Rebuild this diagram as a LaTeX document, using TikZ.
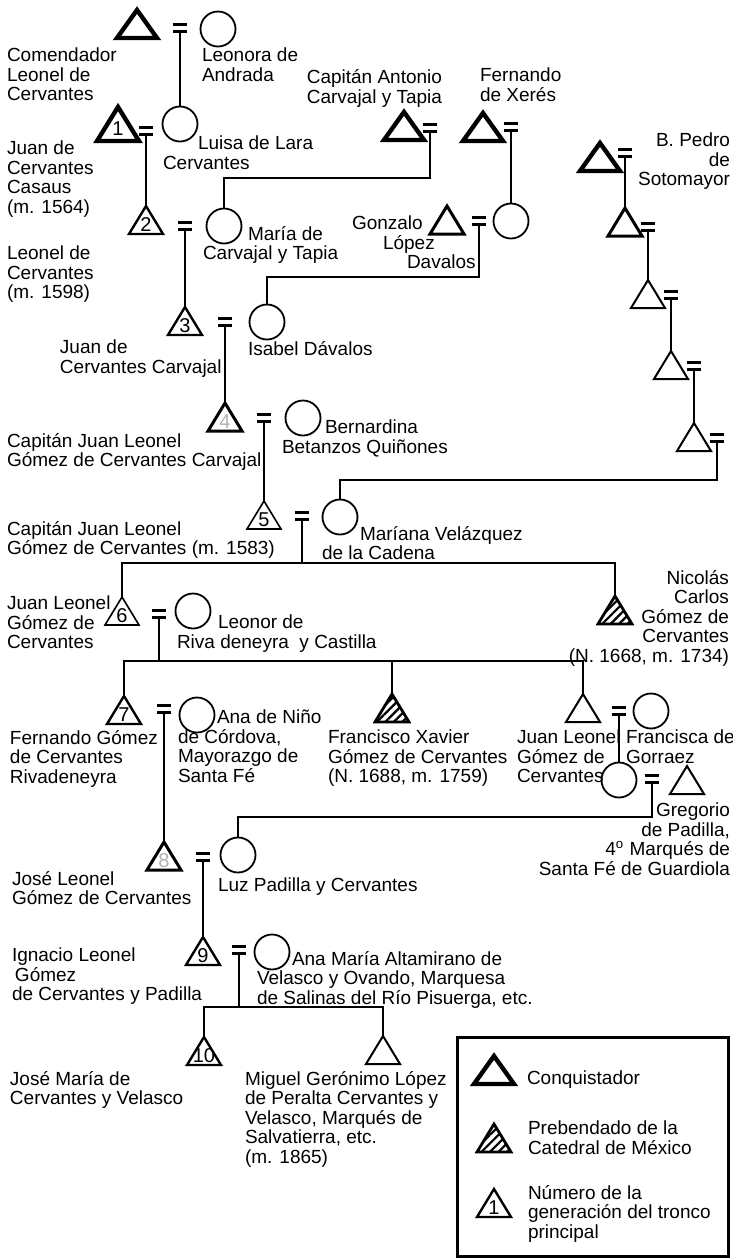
\documentclass[tikz,border=0pt]{standalone}
\usepackage{fontspec}
\setmainfont{Liberation Sans}
\usetikzlibrary{patterns.meta}

\begin{document}
\begin{tikzpicture}[x=0.5pt,y=-0.5pt,
    every node/.style={font=\fontsize{9.5}{9.8}\selectfont,inner sep=0pt,outer sep=0pt},
    link/.style={line width=0.75pt},
    lbl/.style={anchor=north west,align=left},
    lblr/.style={anchor=north east,align=right},
    eqs/.style={minimum width=7pt,minimum height=5pt,fill=white,path picture={
        \fill[black] (path picture bounding box.north west) rectangle ([yshift=-1.7pt]path picture bounding box.north east);
        \fill[black] (path picture bounding box.south west) rectangle ([yshift=1.7pt]path picture bounding box.south east);}},
    wife/.style={circle,draw,line width=0.9pt,minimum size=17.5pt},
    tri/.style={minimum width=17pt,minimum height=14pt,text height=11pt,text depth=0pt,
        font=\fontsize{10}{10}\selectfont,
        append after command={\pgfextra{\draw[line width=#1] (\tikzlastnode.south west) -- (\tikzlastnode.north) -- (\tikzlastnode.south east) -- cycle;}}},
    tri/.default=1pt,
    conq/.style={tri=2.2pt,minimum width=20pt},
    preb/.style={minimum width=17pt,minimum height=14pt,
        append after command={\pgfextra{\draw[line width=1.4pt,pattern={Lines[angle=45,distance=3pt,line width=1.1pt]}] (\tikzlastnode.south west) -- (\tikzlastnode.north) -- (\tikzlastnode.south east) -- cycle;}}},
    faint/.style={text=black!30}
  ]
  \useasboundingbox (0,0) rectangle (733,1260);

  \coordinate (kA) at (0,178);
  \coordinate (kB) at (0,277);
  \coordinate (kC) at (0,480);
  \coordinate (kE) at (0,563);
  \coordinate (kF) at (0,661);
  \coordinate (kD) at (0,817);
  \coordinate (kG) at (0,1007);

  \node[conq] (c0) at (137,24) {};
  \node[eqs] (e0) at (180,28) {};
  \node[wife] (w0) at (218,29) {};
  \node[conq,minimum width=21pt,minimum height=17pt] (g1) at (118,124) {1};
  \node[eqs] (e1) at (146,131) {};
  \node[wife] (w1) at (180,124) {};
  \node[tri=1.2pt] (g2) at (146,220) {2};
  \node[eqs] (e2) at (185,226) {};
  \node[wife] (w2) at (224,226) {};
  \node[tri=1.2pt] (g3) at (185,321) {3};
  \node[eqs] (e3) at (225,322) {};
  \node[wife] (w3) at (267,322) {};
  \node[tri=1.5pt,faint] (g4) at (225,417) {4};
  \node[eqs] (e4) at (264,418) {};
  \node[wife] (w4) at (303,418) {};
  \node[tri=0.8pt] (g5) at (264,515) {5};
  \node[eqs] (e5) at (302,516) {};
  \node[wife] (w5) at (340,517) {};
  \node[tri=0.8pt] (g6) at (122,611) {6};
  \node[eqs] (e6) at (159,614) {};
  \node[wife] (w6) at (193,611) {};
  \node[preb] (nic) at (615,610) {};
  \node[tri=1.2pt] (g7) at (124,710) {7};
  \node[eqs] (e7) at (164,709) {};
  \node[wife] (w7) at (197,715) {};
  \node[preb] (fx) at (392,708) {};
  \node[tri] (jl) at (583,708) {};
  \node[eqs] (ej) at (619,711) {};
  \node[wife] (wf) at (651,711) {};
  \node[wife] (wd) at (619,780) {};
  \node[eqs] (ed) at (652,779) {};
  \node[tri] (gr) at (687,780) {};
  \node[tri=1.5pt,faint] (g8) at (164,856) {8};
  \node[eqs] (e8) at (203,857) {};
  \node[wife] (w8) at (238,855) {};
  \node[tri=1.2pt] (g9) at (203,951) {9};
  \node[eqs] (e9) at (239,950) {};
  \node[wife] (w9) at (272,952) {};
  \node[tri=1.2pt] (g10) at (204,1051) {10};
  \node[tri] (mg) at (383,1050) {};

  \node[conq] (an) at (404,126) {};
  \node[eqs] (ea) at (430,128) {};
  \node[conq] (fe) at (483,127) {};
  \node[eqs] (ef) at (511,127) {};
  \node[tri=1.5pt] (gz) at (447,220) {};
  \node[eqs] (ez) at (479,221) {};
  \node[wife] (wz) at (511,221) {};
  \node[conq] (s0) at (600,157) {};
  \node[eqs] (es0) at (625,153) {};
  \node[tri=1.5pt] (s1) at (625,222) {};
  \node[eqs] (es1) at (648,227) {};
  \node[tri] (s2) at (648,294) {};
  \node[eqs] (es2) at (671,295) {};
  \node[tri] (s3) at (671,365) {};
  \node[eqs] (es3) at (694,366) {};
  \node[tri] (s4) at (694,437) {};
  \node[eqs] (es4) at (717,438) {};

  \draw[link] (e0.south) -- (w1.north);
  \draw[link] (e1.south) -- (g2.north);
  \draw[link] (e2.south) -- (g3.north);
  \draw[link] (e3.south) -- (g4.north);
  \draw[link] (e4.south) -- (g5.north);
  \draw[link] (w2.north) -- (w2.north |- kA) -| (ea.south);
  \draw[link] (ef.south) -- (wz.north);
  \draw[link] (w3.north) -- (w3.north |- kB) -| (ez.south);
  \draw[link] (es0.south) -- (s1.north);
  \draw[link] (es1.south) -- (s2.north);
  \draw[link] (es2.south) -- (s3.north);
  \draw[link] (es3.south) -- (s4.north);
  \draw[link] (w5.north) -- (w5.north |- kC) -| (es4.south);
  \draw[link] (e5.south) -- (e5.south |- kE);
  \draw[link] (g6.north) |- (nic.north |- kE) -- (nic.north);
  \draw[link] (e6.south) -- (e6.south |- kF);
  \draw[link] (g7.north) |- (jl.north |- kF) -- (jl.north);
  \draw[link] (fx.north) -- (fx.north |- kF);
  \draw[link] (ej.south) -- (wd.north);
  \draw[link] (w8.north) -- (w8.north |- kD) -| (ed.south);
  \draw[link] (e7.south) -- (g8.north);
  \draw[link] (e8.south) -- (g9.north);
  \draw[link] (e9.south) -- (e9.south |- kG);
  \draw[link] (g10.north) |- (mg.north |- kG) -- (mg.north);

  \node[lbl] (tL0) at (7,48) {Comendador\\Leonel de\\Cervantes};
  \node[lbl] (tW0) at (202,48) {Leonora de\\Andrada};
  \node[lblr] (tAn) at (442,70) {Capitán Antonio\\Carvajal y Tapia};
  \node[lbl] (tFe) at (480,68) {Fernando\\de Xerés};
  \node[lbl] (tW1) at (163,136) {\hspace*{17.5pt}Luisa de Lara\\Cervantes};
  \node[lbl] (tG1) at (7,141) {Juan de\\Cervantes\\Casaus\\(m. 1564)};
  \node[lblr] (tSo) at (730,133) {B. Pedro\\de\\Sotomayor};
  \node[lbl] (tW2) at (203,226) {\hspace*{22.5pt}María de\\Carvajal y Tapia};
  \node[lbl] (tG2) at (7,246) {Leonel de\\Cervantes\\(m. 1598)};
  \node[lbl] (tGz) at (352,216) {Gonzalo\\\hspace*{15.5pt}López\\\hspace*{27.5pt}Davalos};
  \node[lbl] (tG3) at (60,340) {Juan de\\Cervantes Carvajal};
  \node[lbl] (tW3) at (248,341) {Isabel Dávalos};
  \node[lbl] (tG4) at (7,433) {Capitán Juan Leonel\\Gómez de Cervantes Carvajal};
  \node[lbl] (tW4) at (282,420) {\hspace*{21.5pt}Bernardina\\Betanzos Quiñones};
  \node[lbl] (tG5) at (7,521) {Capitán Juan Leonel\\Gómez de Cervantes (m. 1583)};
  \node[lbl] (tW5) at (322,526) {\hspace*{19pt}Maríana Velázquez\\de la Cadena};
  \node[lblr] (tNi) at (729,570) {Nicolás\\Carlos\\Gómez de\\Cervantes\\(N. 1668, m. 1734)};
  \node[lbl] (tG6) at (7,596) {Juan Leonel\\Gómez de\\Cervantes};
  \node[lbl] (tW6) at (177,615) {\hspace*{20.5pt}Leonor de\\Riva deneyra\ \ y Castilla};
  \node[lbl] (tG7) at (10,730) {Fernando Gómez\\de Cervantes\\Rivadeneyra};
  \node[lbl] (tW7) at (178,710) {\hspace*{19.5pt}Ana de Niño\\de Córdova,\\Mayorazgo de\\Santa Fé};
  \node[lbl] (tFx) at (328,730) {Francisco Xavier\\Gómez de Cervantes\\(N. 1688, m. 1759)};
  \node[lbl] (tJl) at (517,730) {Juan Leonel\\Gómez de\\Cervantes};
  \node[lbl] (tWf) at (626,730) {Francisca de\\Gorraez};
  \node[lblr] (tGr) at (730,803) {Gregorio\\de Padilla,\\4\textsuperscript{o} Marqués de\\Santa Fé de Guardiola};
  \node[lbl] (tG8) at (12,871) {José Leonel\\Gómez de Cervantes};
  \node[lbl] (tW8) at (218,878) {Luz Padilla y Cervantes};
  \node[lbl] (tG9) at (12,948) {Ignacio Leonel\\\hspace*{1.5pt}Gómez\\de Cervantes y Padilla};
  \node[lbl] (tW9) at (257,951) {\hspace*{17.5pt}Ana María Altamirano de\\Velasco y Ovando, Marquesa\\de Salinas del Río Pisuerga, etc.};
  \node[lbl] (tG10) at (10,1071) {José María de\\Cervantes y Velasco};
  \node[lbl] (tMg) at (245,1071) {Miguel Gerónimo López\\de Peralta Cervantes y\\Velasco, Marqués de\\Salvatierra, etc.\\(m. 1865)};

  \draw[line width=1.5pt] (457,1037) rectangle (728,1256);
  \node[conq] (lc) at (494,1070) {};
  \node[lbl] (tLc) at (527,1071) {Conquistador};
  \node[preb] (lp) at (494,1138) {};
  \node[lbl] (tLp) at (528,1121) {Prebendado de la\\Catedral de México};
  \node[tri=1.2pt] (ln) at (494,1203) {1};
  \node[lbl] (tLn) at (528,1185) {Número de la\\generación del tronco\\principal};
\end{tikzpicture}
\end{document}
